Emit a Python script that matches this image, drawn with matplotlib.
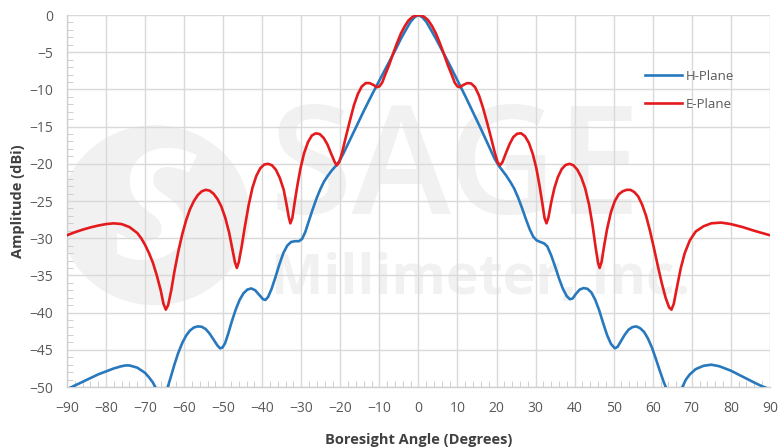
import matplotlib
matplotlib.use('Agg')
import matplotlib.pyplot as plt
from matplotlib.patches import Ellipse
from matplotlib.ticker import MultipleLocator

plt.rcParams['font.family'] = ['Open Sans', 'DejaVu Sans']

# H-Plane (angle in degrees, amplitude in dBi)
h_angle = [-90, -88, -86, -84, -82, -80, -78, -76, -75, -74, -72, -70, -69, -68, -67, -66,
           -65, -64.2, -63.5, -62.5, -61.5, -60.5, -59.5, -58.5, -57.5, -56.5, -55.5, -54.5,
           -53.5, -52.5, -51.5, -50.8, -50.2, -49.5, -48.7, -47.8, -46.8, -45.8, -44.8, -43.8,
           -42.8, -41.8, -40.8, -39.8, -39.2, -38.5, -37.6, -36.6, -35.6, -34.6, -33.6, -32.6,
           -31.6, -30.6, -29.8, -29.0, -28.2, -27.2, -26.2, -25.2, -24.2, -23.2, -22.2, -21.2,
           -20.2, -19.2, -18, -16, -14, -12, -10, -8, -6, -4.5, -3, -2, -1, 0,
           1, 2, 3, 4.5, 6, 8, 10, 12, 14, 16, 18, 19.5, 20.5, 21.5, 22.5, 23.5, 24.5, 25.5,
           26.5, 27.5, 28.5, 29.4, 30.3, 31.2, 32.2, 33.0, 34.0, 35.0, 36.0, 37.0, 38.0, 38.8,
           39.5, 40.3, 41.3, 42.3, 43.3, 44.3, 45.3, 46.3, 47.3, 48.3, 49.3, 50.3, 51.0, 51.8,
           52.8, 53.8, 54.8, 55.8, 56.8, 57.8, 58.8, 59.8, 60.8, 61.8, 62.8, 63.8, 65.5, 67,
           67.6, 68.5, 69.5, 71, 73, 75, 77, 80, 83, 86, 88, 90]
h_amp = [-50.3, -49.8, -49.3, -48.8, -48.3, -47.9, -47.5, -47.2, -47.1, -47.1, -47.4, -48.1,
         -48.7, -49.4, -50.4, -52.0, -51.0, -50.0, -48.8, -47.0, -45.4, -44.1, -43.1, -42.4,
         -42.0, -41.85, -41.9, -42.2, -42.8, -43.6, -44.4, -44.8, -44.7, -44.1, -42.8, -41.2,
         -39.6, -38.3, -37.4, -36.9, -36.75, -37.0, -37.6, -38.2, -38.3, -37.9, -36.8, -35.2,
         -33.5, -32.0, -31.0, -30.5, -30.4, -30.4, -30.1, -29.2, -27.9, -26.3, -24.8, -23.5,
         -22.4, -21.6, -20.9, -20.3, -19.6, -18.6, -17.3, -15.1, -12.9, -10.8, -8.8, -6.8,
         -4.8, -3.2, -1.8, -0.9, -0.3, 0.0,
         -0.3, -0.9, -1.8, -3.2, -4.7, -6.7, -8.8, -10.9, -13.1, -15.3, -17.6, -19.3, -20.2,
         -20.9, -21.6, -22.4, -23.3, -24.5, -25.9, -27.4, -28.8, -29.8, -30.3, -30.5, -30.7,
         -31.1, -32.3, -33.8, -35.4, -36.8, -37.8, -38.2, -38.1, -37.5, -36.9, -36.7, -36.8,
         -37.3, -38.3, -39.7, -41.4, -43.0, -44.2, -44.8, -44.6, -43.9, -43.0, -42.3, -41.95,
         -41.85, -42.1, -42.6, -43.5, -44.7, -46.2, -47.8, -49.3, -50.6, -52.5, -51.0, -50.0,
         -49.0, -48.3, -47.6, -47.15, -47.0, -47.2, -47.8, -48.6, -49.4, -49.9, -50.3]

# E-Plane
e_angle = [-90, -88, -86, -84, -82, -80, -78, -76, -74, -72, -71, -70, -69, -68, -67, -66,
           -65.3, -64.7, -64.1, -63.3, -62.5, -61.5, -60.5, -59.5, -58.5, -57.5, -56.5, -55.5,
           -54.5, -53.5, -52.5, -51.5, -50.5, -49.5, -48.5, -47.7, -47.0, -46.5, -46.0, -45.3,
           -44.5, -43.5, -42.5, -41.5, -40.5, -39.5, -38.5, -37.5, -36.5, -35.5, -34.5, -33.8,
           -33.2, -32.8, -32.3, -31.7, -31.0, -30.2, -29.3, -28.3, -27.3, -26.3, -25.3, -24.3,
           -23.3, -22.3, -21.5, -20.9, -20.3, -19.5, -18.5, -17.5, -16.5, -15.5, -14.5, -13.5,
           -12.5, -11.5, -10.7, -10.0, -9.3, -8.5, -7.5, -6.5, -5.5, -4.5, -3.5, -2.5, -1.5,
           -0.5, 0.5,
           1.5, 2.5, 3.5, 4.5, 5.5, 6.5, 7.5, 8.5, 9.3, 10.0, 10.6, 11.5, 12.5, 13.5, 14.5,
           15.5, 16.5, 17.5, 18.5, 19.5, 20.3, 20.9, 21.5, 22.3, 23.3, 24.3, 25.3, 26.3, 27.3,
           28.3, 29.3, 30.2, 31.0, 31.7, 32.3, 32.8, 33.3, 34.0, 34.8, 35.7, 36.7, 37.7, 38.7,
           39.7, 40.7, 41.7, 42.7, 43.7, 44.6, 45.4, 46.0, 46.4, 46.9, 47.5, 48.3, 49.3, 50.3,
           51.3, 52.3, 53.3, 54.3, 55.3, 56.3, 57.3, 58.3, 59.3, 60.3, 61.3, 62.3, 63.3, 64.2,
           64.8, 65.4, 66.2, 67.2, 68.2, 69.5, 71, 73, 75, 77.5, 80, 83, 86, 90]
e_amp = [-29.6, -29.2, -28.85, -28.55, -28.3, -28.1, -28.0, -28.1, -28.5, -29.3, -30.0,
         -30.9, -32.0, -33.3, -35.0, -37.0, -38.8, -39.6, -39.0, -37.0, -34.5, -31.8, -29.5,
         -27.6, -26.1, -25.0, -24.2, -23.7, -23.5, -23.6, -24.0, -24.7, -25.7, -27.2, -29.2,
         -31.3, -33.2, -34.0, -33.2, -31.2, -28.6, -25.6, -23.2, -21.6, -20.6, -20.1, -20.0,
         -20.2, -20.8, -21.9, -23.5, -25.4, -27.2, -28.0, -27.3, -25.2, -22.9, -20.6, -18.6,
         -17.1, -16.2, -15.9, -16.0, -16.5, -17.4, -18.7, -19.7, -20.2, -19.8, -18.4, -16.2,
         -14.1, -12.1, -10.6, -9.6, -9.15, -9.15, -9.4, -9.7, -9.6, -9.1, -8.0, -6.7, -5.2,
         -3.8, -2.5, -1.5, -0.7, -0.25, -0.02, -0.02,
         -0.25, -0.7, -1.5, -2.5, -3.8, -5.2, -6.7, -8.0, -9.1, -9.6, -9.7, -9.4, -9.15,
         -9.2, -9.7, -10.8, -12.4, -14.3, -16.3, -18.4, -19.8, -20.2, -19.8, -18.7, -17.4,
         -16.4, -15.95, -15.9, -16.3, -17.2, -18.7, -20.6, -22.9, -25.2, -27.3, -28.0,
         -27.2, -25.2, -23.3, -21.8, -20.7, -20.15, -20.0, -20.2, -20.8, -21.8, -23.3,
         -25.5, -28.3, -31.3, -33.3, -34.0, -33.2, -31.2, -28.8, -26.5, -25.0, -24.1, -23.7,
         -23.5, -23.5, -23.8, -24.4, -25.5, -27.0, -29.0, -31.3, -33.7, -36.0, -38.0, -39.3,
         -39.6, -38.8, -36.6, -34.0, -32.0, -30.3, -29.1, -28.4, -28.0, -27.9, -28.1, -28.5,
         -29.0, -29.6]

x_ticks = list(range(-90, 91, 10))
y_ticks = list(range(-50, 1, 5))

fig = plt.figure(figsize=(7.8, 4.47), dpi=100)
ax = fig.add_axes([0.0859, 0.1342, 0.9011, 0.8322])

# faint company watermark behind the data
wm = '#f1f1f1'
ax.add_patch(Ellipse((-67.5, -26.9), 48.6, 24.2, facecolor=wm, edgecolor='none', zorder=0.2))
ax.text(-67.5, -27.5, 'S', fontsize=110, fontweight='bold', color='white', ha='center',
        va='center', style='italic', zorder=0.3)
ax.text(9.5, -21.5, 'SAGE', fontsize=108, fontweight='semibold', color=wm, ha='center',
        va='center', zorder=0.2)
ax.text(16, -35.5, 'Millimeter, Inc.', fontsize=40, fontweight='bold', color=wm,
        ha='center', va='center', zorder=0.2)

ax.plot(h_angle, h_amp, color='#2878bd', lw=1.9, label='H-Plane', zorder=3,
        solid_joinstyle='round')
ax.plot(e_angle, e_amp, color='#e41a1c', lw=1.9, label='E-Plane', zorder=3,
        solid_joinstyle='round')

ax.set_xlim(-90, 90)
ax.set_ylim(-50, 0)
ax.set_xticks(x_ticks)
ax.set_yticks(y_ticks)
ax.xaxis.set_minor_locator(MultipleLocator(2))
ax.yaxis.set_minor_locator(MultipleLocator(1))
ax.grid(True, which='major', color='#d9d9d9', lw=1.0, zorder=0.5)
ax.set_axisbelow(True)

for s in ['top', 'right']:
    ax.spines[s].set_visible(False)
for s in ['left', 'bottom']:
    ax.spines[s].set_color('#d0d0d0')
    ax.spines[s].set_linewidth(1.0)

ax.tick_params(which='major', length=0, labelsize=10, labelcolor='#595959', pad=10)
ax.tick_params(which='minor', direction='in', length=4, color='#c8c8c8')

ax.set_xlabel('Boresight Angle (Degrees)', fontsize=10.5, fontweight='bold', color='#404040',
              labelpad=12)
ax.set_ylabel('Amplitude (dBi)', fontsize=10.5, fontweight='bold', color='#404040',
              labelpad=3)

leg = ax.legend(loc='upper left', bbox_to_anchor=(0.805, 0.885), frameon=False, fontsize=9.5,
                handlelength=2.8, handletextpad=0.3, labelspacing=1.15)
for t in leg.get_texts():
    t.set_color('#595959')

fig.savefig('out.png', dpi=100)
